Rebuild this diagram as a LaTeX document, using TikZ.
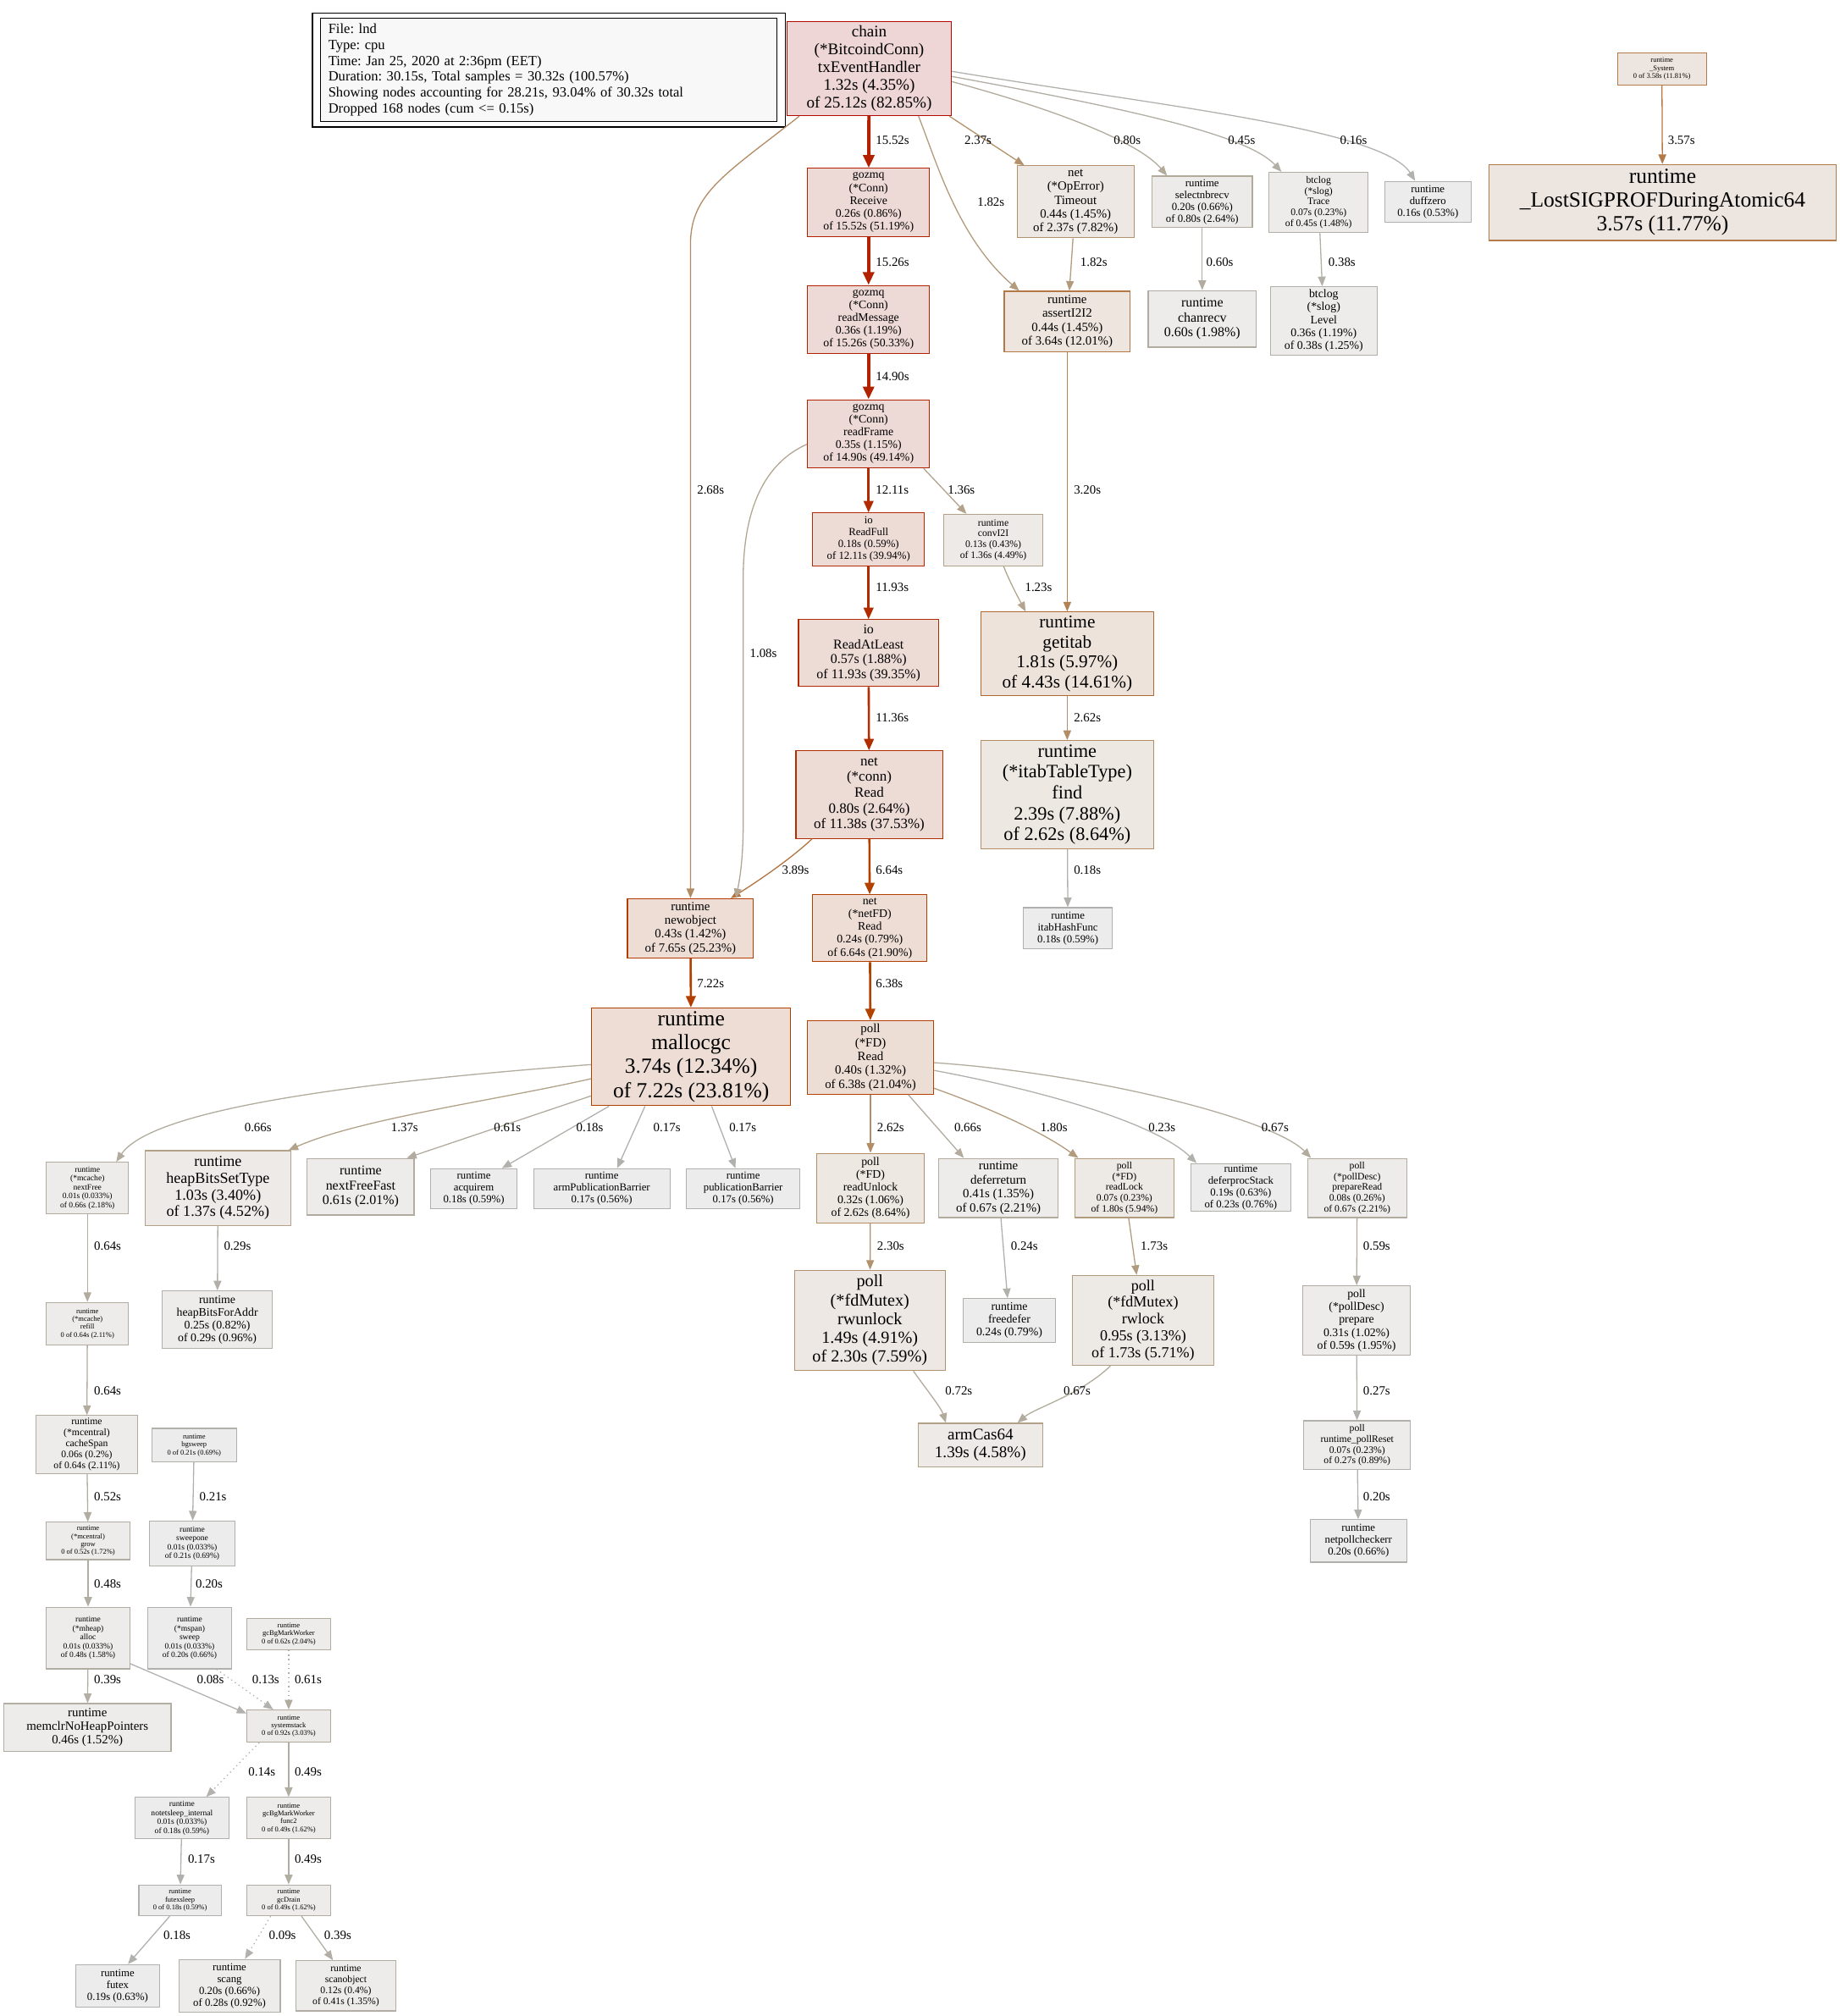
\documentclass[tikz,border=0pt]{standalone}
\usepackage{fontspec}
\setmainfont{Liberation Serif}
\usetikzlibrary{arrows.meta,calc}
\newcommand\fs[1]{\fontsize{\fpeval{0.7*#1}bp}{\fpeval{0.77*#1}bp}\selectfont}
\newcommand\mkcol[2]{%
  \pgfmathsetmacro\pcS{#2/30.32}%
  \pgfmathsetmacro\pcSat{min(1,\pcS/0.2)}%
  \pgfmathsetmacro\pcSh{\pcS^0.3}%
  \pgfmathtruncatemacro\pcFg{178*(1-\pcSat*\pcSh)}%
  \pgfmathtruncatemacro\pcFb{178*(1-\pcSat)}%
  \pgfmathtruncatemacro\pcBg{237*(1-0.1*\pcSat*\pcSh)}%
  \pgfmathtruncatemacro\pcBb{237*(1-0.1*\pcSat)}%
  \definecolor{#1fg}{RGB}{178,\pcFg,\pcFb}%
  \definecolor{#1bg}{RGB}{237,\pcBg,\pcBb}%
}
\newcommand\pnode[7]{%
  \mkcol{#1}{#2}%
  \node[pbox, draw=#1fg, fill=#1bg, font=\fs{#3}, minimum width=#4bp, minimum height=#5bp] (#1) at (#6) {#7};}
\definecolor{legfill}{RGB}{248,248,248}
\frenchspacing
\tikzset{
  pbox/.style={rectangle, align=center, inner sep=1bp, line width=0.75bp},
  elab/.style={font=\fs{14}, anchor=west, inner sep=0pt},
  ed/.code={%
    \mkcol{etmp}{#1}%
    \pgfmathtruncatemacro\pcW{1+#1*5/30.32}%
    \pgfkeysalso{draw=etmpfg}%
    \ifnum\pcW>2\relax\pgfkeysalso{ew3}\else\ifnum\pcW>1\relax\pgfkeysalso{ew2}\else\pgfkeysalso{ew1}\fi\fi},
  ew1/.style={line width=0.85bp,-{Triangle[length=7.5bp,width=6bp]}},
  ew2/.style={line width=1.7bp,-{Triangle[length=9bp,width=7.5bp]}},
  ew3/.style={line width=2.6bp,-{Triangle[length=10bp,width=8.5bp]}},
  dots/.style={dash pattern=on 0.9bp off 2.6bp},
}
\begin{document}
\begin{tikzpicture}[x=1bp,y=-1bp]
\useasboundingbox (0,0) rectangle (1431,1568);
\fill[white] (0,0) rectangle (1431,1568);
% legend
\node[draw=black, fill=legfill, line width=0.75bp, anchor=north west, minimum width=355bp, minimum height=80bp,
  text width=343bp, inner xsep=6bp, inner ysep=1bp, align=left, font=\fontsize{10.9bp}{12.4bp}\selectfont\frenchspacing] (legend) at (249,14)
  {File: lnd\\Type: cpu\\Time: Jan 25, 2020 at 2:36pm (EET)\\Duration: 30.15s, Total samples = 30.32s (100.57\%)\\Showing nodes accounting for 28.21s, 93.04\% of 30.32s total\\Dropped 168 nodes (cum <= 0.15s)};
\draw[line width=0.75bp] ($(legend.north west)+(-6,-4)$) rectangle ($(legend.south east)+(6,4)$);
% nodes
\pnode{chain}{25.12}{18}{128}{73}{676,53.5}{chain\\(*BitcoindConn)\\txEventHandler\\1.32s (4.35\%)\\of 25.12s (82.85\%)}
\pnode{recv}{15.52}{13}{95}{53}{675.5,157.5}{gozmq\\(*Conn)\\Receive\\0.26s (0.86\%)\\of 15.52s (51.19\%)}
\pnode{rmsg}{15.26}{13}{95}{53}{675.5,248.5}{gozmq\\(*Conn)\\readMessage\\0.36s (1.19\%)\\of 15.26s (50.33\%)}
\pnode{rframe}{14.90}{13}{95}{53}{675.5,337.5}{gozmq\\(*Conn)\\readFrame\\0.35s (1.15\%)\\of 14.90s (49.14\%)}
\pnode{rfull}{12.11}{12}{87}{41}{675.5,419.5}{io\\ReadFull\\0.18s (0.59\%)\\of 12.11s (39.94\%)}
\pnode{ratleast}{11.93}{15}{109}{52}{675.5,508}{io\\ReadAtLeast\\0.57s (1.88\%)\\of 11.93s (39.35\%)}
\pnode{connread}{11.38}{16}{114}{68}{676,618}{net\\(*conn)\\Read\\0.80s (2.64\%)\\of 11.38s (37.53\%)}
\pnode{newobj}{7.65}{14}{98}{46}{537,722}{runtime\\newobject\\0.43s (1.42\%)\\of 7.65s (25.23\%)}
\pnode{netfd}{6.64}{13}{89}{52}{676.5,722}{net\\(*netFD)\\Read\\0.24s (0.79\%)\\of 6.64s (21.90\%)}
\pnode{mallocgc}{7.22}{24}{155}{76}{537.5,822}{runtime\\mallocgc\\3.74s (12.34\%)\\of 7.22s (23.81\%)}
\pnode{pfdread}{6.38}{14}{98}{57}{677,822.5}{poll\\(*FD)\\Read\\0.40s (1.32\%)\\of 6.38s (21.04\%)}
\pnode{timeout}{2.37}{14}{91}{56}{836.5,157}{net\\(*OpError)\\Timeout\\0.44s (1.45\%)\\of 2.37s (7.82\%)}
\pnode{selnb}{0.80}{12}{78}{40}{935,157}{runtime\\selectnbrecv\\0.20s (0.66\%)\\of 0.80s (2.64\%)}
\pnode{trace}{0.45}{11}{77}{47}{1025.5,157.5}{btclog\\(*slog)\\Trace\\0.07s (0.23\%)\\of 0.45s (1.48\%)}
\pnode{duff}{0.16}{12}{67}{32}{1110.5,157}{runtime\\duffzero\\0.16s (0.53\%)}
\pnode{sys}{3.58}{8}{69}{25}{1292.5,53.5}{runtime\\\_System\\0 of 3.58s (11.81\%)}
\pnode{lost}{3.57}{24}{270}{59}{1293,157.5}{runtime\\\_LostSIGPROFDuringAtomic64\\3.57s (11.77\%)}
\pnode{assert}{3.64}{14}{98}{47}{830,250}{runtime\\assertI2I2\\0.44s (1.45\%)\\of 3.64s (12.01\%)}
\pnode{chanrecv}{0.60}{15}{84}{44}{935,248}{runtime\\chanrecv\\0.60s (1.98\%)}
\pnode{level}{0.38}{13}{83}{53}{1029.5,249.5}{btclog\\(*slog)\\Level\\0.36s (1.19\%)\\of 0.38s (1.25\%)}
\pnode{convi}{1.36}{11}{77}{40}{772.5,420}{runtime\\convI2I\\0.13s (0.43\%)\\of 1.36s (4.49\%)}
\pnode{getitab}{4.43}{20}{134}{65}{830,508.5}{runtime\\getitab\\1.81s (5.97\%)\\of 4.43s (14.61\%)}
\pnode{find}{2.62}{21}{134}{84}{830,618}{runtime\\(*itabTableType)\\find\\2.39s (7.88\%)\\of 2.62s (8.64\%)}
\pnode{itabhash}{0.18}{12}{69}{32}{830.5,722}{runtime\\itabHashFunc\\0.18s (0.59\%)}
\pnode{nextfree}{0.66}{9}{64}{40}{68,924}{runtime\\(*mcache)\\nextFree\\0.01s (0.033\%)\\of 0.66s (2.18\%)}
\pnode{hbst}{1.37}{17}{113}{58}{169.5,924}{runtime\\heapBitsSetType\\1.03s (3.40\%)\\of 1.37s (4.52\%)}
\pnode{nff}{0.61}{15}{83}{44}{280.5,923}{runtime\\nextFreeFast\\0.61s (2.01\%)}
\pnode{acq}{0.18}{12}{67}{31}{368.5,924.5}{runtime\\acquirem\\0.18s (0.59\%)}
\pnode{apb}{0.17}{12}{106}{31}{468,924.5}{runtime\\armPublicationBarrier\\0.17s (0.56\%)}
\pnode{pb}{0.17}{12}{88}{31}{578,924.5}{runtime\\publicationBarrier\\0.17s (0.56\%)}
\pnode{runlock}{2.62}{13}{84}{54}{677,924}{poll\\(*FD)\\readUnlock\\0.32s (1.06\%)\\of 2.62s (8.64\%)}
\pnode{defret}{0.67}{14}{93}{46}{776.5,924}{runtime\\deferreturn\\0.41s (1.35\%)\\of 0.67s (2.21\%)}
\pnode{rlock}{1.80}{11}{77}{46}{874.5,924}{poll\\(*FD)\\readLock\\0.07s (0.23\%)\\of 1.80s (5.94\%)}
\pnode{defps}{0.23}{12}{78}{37}{965,923.5}{runtime\\deferprocStack\\0.19s (0.63\%)\\of 0.23s (0.76\%)}
\pnode{prepread}{0.67}{11}{77}{46}{1055.5,924}{poll\\(*pollDesc)\\prepareRead\\0.08s (0.26\%)\\of 0.67s (2.21\%)}
\pnode{hbfa}{0.29}{13}{86}{45}{169,1026.5}{runtime\\heapBitsForAddr\\0.25s (0.82\%)\\of 0.29s (0.96\%)}
\pnode{refill}{0.64}{8}{64}{33}{68,1029.5}{runtime\\(*mcache)\\refill\\0 of 0.64s (2.11\%)}
\pnode{rwunlock}{2.30}{19}{117}{78}{676.5,1027}{poll\\(*fdMutex)\\rwunlock\\1.49s (4.91\%)\\of 2.30s (7.59\%)}
\pnode{freedefer}{0.24}{13}{72}{34}{785,1027}{runtime\\freedefer\\0.24s (0.79\%)}
\pnode{rwlock}{1.73}{17}{110}{70}{889,1027}{poll\\(*fdMutex)\\rwlock\\0.95s (3.13\%)\\of 1.73s (5.71\%)}
\pnode{prepare}{0.59}{13}{84}{54}{1055,1027}{poll\\(*pollDesc)\\prepare\\0.31s (1.02\%)\\of 0.59s (1.95\%)}
\pnode{armcas}{1.39}{18}{97}{34}{762.5,1124}{armCas64\\1.39s (4.58\%)}
\pnode{cachespan}{0.64}{11}{79}{45}{67.5,1123.5}{runtime\\(*mcentral)\\cacheSpan\\0.06s (0.2\%)\\of 0.64s (2.11\%)}
\pnode{bgsweep}{0.21}{8}{66}{26}{151,1124}{runtime\\bgsweep\\0 of 0.21s (0.69\%)}
\pnode{pollreset}{0.27}{11}{83}{38}{1055.5,1124}{poll\\runtime\_pollReset\\0.07s (0.23\%)\\of 0.27s (0.89\%)}
\pnode{grow}{0.52}{8}{65}{29}{68.5,1198.5}{runtime\\(*mcentral)\\grow\\0 of 0.52s (1.72\%)}
\pnode{sweepone}{0.21}{9}{67}{35}{149.5,1200.5}{runtime\\sweepone\\0.01s (0.033\%)\\of 0.21s (0.69\%)}
\pnode{npce}{0.20}{12}{75}{33}{1056.5,1198.5}{runtime\\netpollcheckerr\\0.20s (0.66\%)}
\pnode{halloc}{0.48}{9}{65}{48}{68.5,1274}{runtime\\(*mheap)\\alloc\\0.01s (0.033\%)\\of 0.48s (1.58\%)}
\pnode{sweep}{0.20}{9}{65}{48}{147.5,1274}{runtime\\(*mspan)\\sweep\\0.01s (0.033\%)\\of 0.20s (0.66\%)}
\pnode{gcbg}{0.62}{8}{65}{24}{224.5,1271}{runtime\\gcBgMarkWorker\\0 of 0.62s (2.04\%)}
\pnode{memclr}{0.46}{14}{130}{37}{68,1343.5}{runtime\\memclrNoHeapPointers\\0.46s (1.52\%)}
\pnode{sysstack}{0.92}{8}{65}{25}{224.5,1342.5}{runtime\\systemstack\\0 of 0.92s (3.03\%)}
\pnode{notets}{0.18}{9}{73}{32}{141.5,1414}{runtime\\notetsleep\_internal\\0.01s (0.033\%)\\of 0.18s (0.59\%)}
\pnode{func2}{0.49}{8}{65}{32}{224.5,1414}{runtime\\gcBgMarkWorker\\func2\\0 of 0.49s (1.62\%)}
\pnode{futexsleep}{0.18}{8}{64}{24}{140,1478}{runtime\\futexsleep\\0 of 0.18s (0.59\%)}
\pnode{gcdrain}{0.49}{8}{65}{24}{224.5,1478}{runtime\\gcDrain\\0 of 0.49s (1.62\%)}
\pnode{futex}{0.19}{12}{65}{33}{91.5,1544.5}{runtime\\futex\\0.19s (0.63\%)}
\pnode{scang}{0.28}{12}{79}{41}{178.5,1544.5}{runtime\\scang\\0.20s (0.66\%)\\of 0.28s (0.92\%)}
\pnode{scanobj}{0.41}{11}{78}{39}{269,1544.5}{runtime\\scanobject\\0.12s (0.4\%)\\of 0.41s (1.35\%)}
% edges
\draw[ed=15.52] (chain) -- (recv);
\draw[ed=15.26] (recv) -- (rmsg);
\draw[ed=14.90] (rmsg) -- (rframe);
\draw[ed=12.11] (rframe) -- (rfull);
\draw[ed=11.93] (rfull) -- (ratleast);
\draw[ed=11.36] (ratleast) -- (connread);
\draw[ed=6.64] (connread) -- (netfd);
\draw[ed=6.38] (netfd) -- (pfdread);
\draw[ed=7.22] (newobj) -- (mallocgc);
\draw[ed=3.89] ($(connread.south west)+(13,0)$) .. controls (615,668) and (590,685) .. ($(newobj.north east)+(-18,0)$);
\draw[ed=2.68] ($(chain.south west)+(10,0)$) .. controls (565,135) and (537,150) .. (537,190) -- (newobj.north);
\draw[ed=1.08] ($(rframe.west)+(0,8)$) .. controls (595,360) and (578,395) .. (578,450) -- (578,640) .. controls (578,670) and (575,685) .. ($(newobj.north east)+(-14,0)$);
\draw[ed=1.36] ($(rframe.south east)+(-5,0)$) -- ($(convi.north west)+(18,0)$);
\draw[ed=2.37] ($(chain.south east)+(-2,0)$) -- ($(timeout.north west)+(6,0)$);
\draw[ed=1.82] ($(chain.south east)+(-26,0)$) .. controls (728,125) and (745,185) .. ($(assert.north west)+(12,0)$);
\draw[ed=0.80] ($(chain.east)+(0,10)$) .. controls (820,85) and (885,110) .. ($(selnb.north west)+(12,0)$);
\draw[ed=0.45] ($(chain.east)+(0,6)$) .. controls (880,85) and (970,105) .. ($(trace.north west)+(10,0)$);
\draw[ed=0.16] ($(chain.east)+(0,2)$) .. controls (900,82) and (1075,100) .. ($(duff.north west)+(24,0)$);
\draw[ed=1.82] (timeout) -- (assert);
\draw[ed=0.60] (selnb) -- (chanrecv);
\draw[ed=0.38] (trace) -- (level);
\draw[ed=3.57] (sys) -- (lost);
\draw[ed=3.20] (assert) -- (getitab);
\draw[ed=1.23] ($(convi.south)+(8,0)$) .. controls (785,452) and (792,465) .. ($(getitab.north west)+(35,0)$);
\draw[ed=2.62] (getitab) -- (find);
\draw[ed=0.18] (find) -- (itabhash);
\draw[ed=0.66] ($(mallocgc.west)+(0,6)$) .. controls (300,840) and (120,860) .. ($(nextfree.north east)+(-10,0)$);
\draw[ed=1.37] ($(mallocgc.west)+(0,17)$) .. controls (390,855) and (280,870) .. ($(hbst.north east)+(-2,0)$);
\draw[ed=0.61] ($(mallocgc.south west)+(0,-8)$) -- ($(nff.north east)+(-6,0)$);
\draw[ed=0.18] ($(mallocgc.south west)+(14,0)$) -- ($(acq.north east)+(-12,0)$);
\draw[ed=0.17] ($(mallocgc.south west)+(42,0)$) -- ($(apb.north)+(12,0)$);
\draw[ed=0.17] ($(mallocgc.south)+(16,0)$) -- ($(pb.north)+(-6,0)$);
\draw[ed=2.62] (pfdread) -- (runlock);
\draw[ed=0.66] ($(pfdread.south east)+(-20,0)$) -- ($(defret.north west)+(20,0)$);
\draw[ed=1.80] ($(pfdread.south east)+(0,-5)$) .. controls (770,862) and (810,880) .. ($(rlock.north west)+(3,0)$);
\draw[ed=0.23] ($(pfdread.east)+(0,10)$) .. controls (820,850) and (900,875) .. ($(defps.north west)+(5,0)$);
\draw[ed=0.67] ($(pfdread.east)+(0,4)$) .. controls (850,835) and (990,870) .. ($(prepread.north west)+(3,0)$);
\draw[ed=0.64] (nextfree) -- (refill);
\draw[ed=0.29] (hbst) -- (hbfa);
\draw[ed=2.30] (runlock) -- (rwunlock);
\draw[ed=0.24] (defret) -- (freedefer);
\draw[ed=1.73] (rlock) -- (rwlock);
\draw[ed=0.59] (prepread) -- (prepare);
\draw[ed=0.64] (refill) -- (cachespan);
\draw[ed=0.72] ($(rwunlock.south east)+(-25,0)$) .. controls (720,1080) and (732,1095) .. ($(armcas.north west)+(22,0)$);
\draw[ed=0.67] ($(rwlock.south west)+(30,0)$) .. controls (840,1085) and (805,1095) .. ($(armcas.north east)+(-20,0)$);
\draw[ed=0.27] (prepare) -- (pollreset);
\draw[ed=0.52] (cachespan) -- (grow);
\draw[ed=0.21] (bgsweep) -- (sweepone);
\draw[ed=0.20] (pollreset) -- (npce);
\draw[ed=0.48] (grow) -- (halloc);
\draw[ed=0.20] (sweepone) -- (sweep);
\draw[ed=0.39] (halloc) -- (memclr);
\draw[ed=0.08] ($(halloc.east)+(0,20)$) -- ($(sysstack.north west)+(0,3)$);
\draw[ed=0.13,dots] ($(sweep.south east)+(-12,0)$) -- ($(sysstack.north)+(-12,0)$);
\draw[ed=0.61,dots] (gcbg) -- (sysstack);
\draw[ed=0.14,dots] ($(sysstack.south west)+(10,0)$) -- ($(notets.north east)+(-18,0)$);
\draw[ed=0.49] (sysstack) -- (func2);
\draw[ed=0.17] (notets) -- (futexsleep);
\draw[ed=0.49] (func2) -- (gcdrain);
\draw[ed=0.18] ($(futexsleep.south)+(-8,0)$) -- ($(futex.north)+(8,0)$);
\draw[ed=0.09,dots] ($(gcdrain.south)+(-14,0)$) -- ($(scang.north)+(12,0)$);
\draw[ed=0.39] ($(gcdrain.south)+(10,0)$) -- ($(scanobj.north)+(-10,0)$);
% edge labels
\node[elab] (lb1) at (681,109) {15.52s};
\node[elab] (lb2) at (681,204) {15.26s};
\node[elab] (lb3) at (681,293) {14.90s};
\node[elab] (lb4) at (681,381) {12.11s};
\node[elab] (lb5) at (681,457) {11.93s};
\node[elab] (lb6) at (681,558) {11.36s};
\node[elab] (lb7) at (681,677) {6.64s};
\node[elab] (lb8) at (681,765) {6.38s};
\node[elab] (lb9) at (608,677) {3.89s};
\node[elab] (lb10) at (542,765) {7.22s};
\node[elab] (lb11) at (542,381) {2.68s};
\node[elab] (lb12) at (583,508) {1.08s};
\node[elab] (lb13) at (737,381) {1.36s};
\node[elab] (lb14) at (750,109) {2.37s};
\node[elab] (lb15) at (760,157) {1.82s};
\node[elab] (lb16) at (866,109) {0.80s};
\node[elab] (lb17) at (955,109) {0.45s};
\node[elab] (lb18) at (1042,109) {0.16s};
\node[elab] (lb19) at (1297,109) {3.57s};
\node[elab] (lb20) at (840,204) {1.82s};
\node[elab] (lb21) at (938,204) {0.60s};
\node[elab] (lb22) at (1033,204) {0.38s};
\node[elab] (lb23) at (835,381) {3.20s};
\node[elab] (lb24) at (797,457) {1.23s};
\node[elab] (lb25) at (835,558) {2.62s};
\node[elab] (lb26) at (835,677) {0.18s};
\node[elab] (lb27) at (190,877) {0.66s};
\node[elab] (lb28) at (304,877) {1.37s};
\node[elab] (lb29) at (384,877) {0.61s};
\node[elab] (lb30) at (448,877) {0.18s};
\node[elab] (lb31) at (508,877) {0.17s};
\node[elab] (lb32) at (567,877) {0.17s};
\node[elab] (lb33) at (682,877) {2.62s};
\node[elab] (lb34) at (742,877) {0.66s};
\node[elab] (lb35) at (809,877) {1.80s};
\node[elab] (lb36) at (893,877) {0.23s};
\node[elab] (lb37) at (981,877) {0.67s};
\node[elab] (lb38) at (73,969) {0.64s};
\node[elab] (lb39) at (174,969) {0.29s};
\node[elab] (lb40) at (682,969) {2.30s};
\node[elab] (lb41) at (786,969) {0.24s};
\node[elab] (lb42) at (887,969) {1.73s};
\node[elab] (lb43) at (1060,969) {0.59s};
\node[elab] (lb44) at (73,1082) {0.64s};
\node[elab] (lb45) at (735,1082) {0.72s};
\node[elab] (lb46) at (827,1082) {0.67s};
\node[elab] (lb47) at (1060,1082) {0.27s};
\node[elab] (lb48) at (73,1164) {0.52s};
\node[elab] (lb49) at (155,1164) {0.21s};
\node[elab] (lb50) at (1060,1164) {0.20s};
\node[elab] (lb51) at (73,1232) {0.48s};
\node[elab] (lb52) at (152,1232) {0.20s};
\node[elab] (lb53) at (73,1306) {0.39s};
\node[elab] (lb54) at (153,1306) {0.08s};
\node[elab] (lb55) at (196,1306) {0.13s};
\node[elab] (lb56) at (229,1306) {0.61s};
\node[elab] (lb57) at (193,1378) {0.14s};
\node[elab] (lb58) at (229,1378) {0.49s};
\node[elab] (lb59) at (146,1446) {0.17s};
\node[elab] (lb60) at (229,1446) {0.49s};
\node[elab] (lb61) at (127,1505) {0.18s};
\node[elab] (lb62) at (209,1505) {0.09s};
\node[elab] (lb63) at (252,1505) {0.39s};
\end{tikzpicture}
\end{document}
